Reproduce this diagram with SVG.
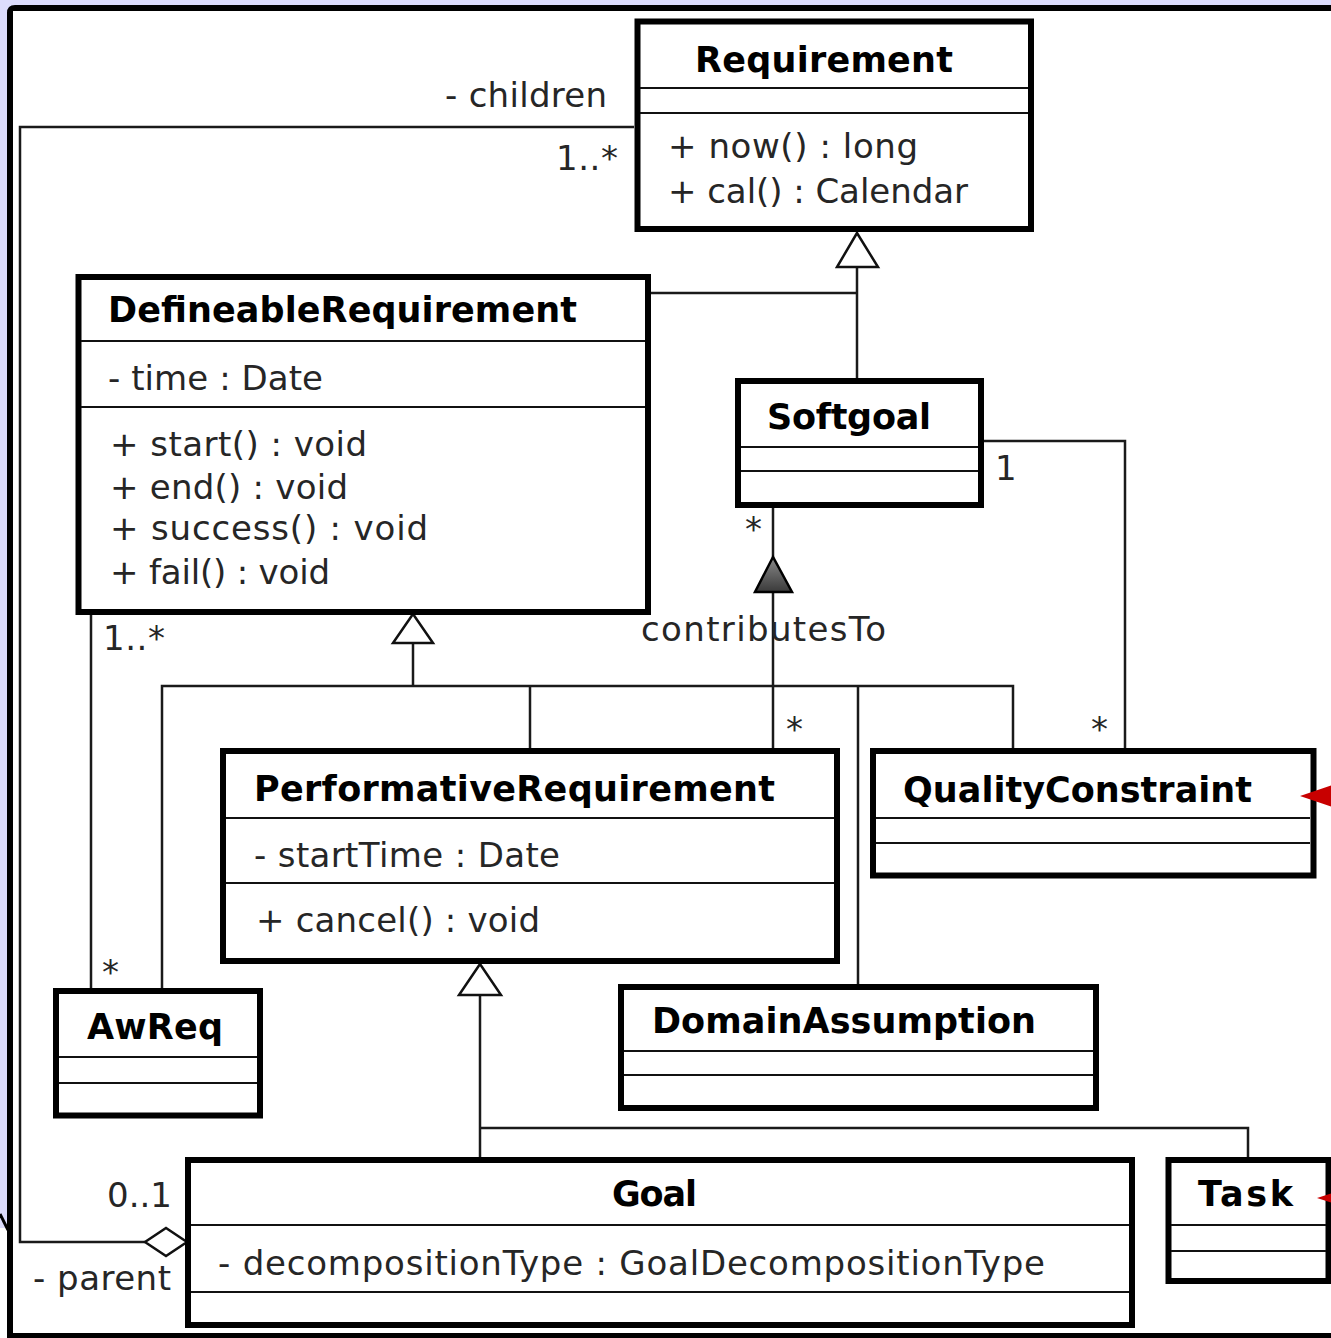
<svg xmlns="http://www.w3.org/2000/svg" width="1331" height="1338" viewBox="0 0 1331 1338">
<style>
.box{fill:#fff;stroke:#000;stroke-width:6}
.sep{stroke:#111;stroke-width:2;fill:none}
.ln{fill:none;stroke:#1a1a1a;stroke-width:2.5}
.gen{fill:#fff;stroke:#111;stroke-width:2.5;stroke-linejoin:miter}
.t{font-family:"DejaVu Sans","Liberation Sans",sans-serif;font-size:34px;fill:#262626}
.b{font-family:"DejaVu Sans","Liberation Sans",sans-serif;font-size:35px;font-weight:bold;fill:#000}
.red{fill:#c80000}
</style>
<defs>
<linearGradient id="gr" x1="0" y1="0" x2="0" y2="1">
<stop offset="0" stop-color="#8a8a8a"/>
<stop offset="1" stop-color="#3a3a3a"/>
</linearGradient>
</defs>
<!-- frame -->
<rect x="0" y="0" width="1331" height="1338" fill="#dcdcfc"/>
<rect x="13" y="11" width="1318" height="1322" fill="#fff"/>
<rect x="0" y="1228" width="13" height="110" fill="#fff"/>
<path d="M7 1338 V13 Q7 5 15 5 H1331 V11 H13 V1333 H1331 V1338 Z" fill="#000"/>
<path d="M0 1214 L8 1230" stroke="#000" stroke-width="3"/>

<g id="connectors">
<!-- aggregation children/parent -->
<polyline class="ln" points="634,127 20,127 20,1242 145,1242"/>
<polygon class="gen" points="187,1242 166,1228 145,1242 166,1256"/>
<!-- generalization to Requirement -->
<polyline class="ln" points="648,293 857,293"/>
<polyline class="ln" points="857,267 857,379"/>
<polygon class="gen" points="857,233 837,267 878,267"/>
<!-- generalization to DefineableRequirement -->
<polyline class="ln" points="413,643 413,686"/>
<polyline class="ln" points="162,991 162,686 1013,686 1013,750"/>
<polyline class="ln" points="530,686 530,750"/>
<polyline class="ln" points="858,686 858,986"/>
<polygon class="gen" points="413,614 393,643 433,643"/>
<!-- generalization to PerformativeRequirement -->
<polyline class="ln" points="480,995 480,1160"/>
<polyline class="ln" points="480,1128 1248,1128 1248,1160"/>
<polygon class="gen" points="480,964 459,995 501,995"/>
<!-- DR - AwReq association -->
<polyline class="ln" points="91,612 91,991"/>
<!-- contributesTo -->
<polyline class="ln" points="773,505 773,750"/>
<polygon points="773,557 755,592 792,592" fill="url(#gr)" stroke="#000" stroke-width="2.5"/>
<!-- Softgoal - QualityConstraint -->
<polyline class="ln" points="984,441 1125,441 1125,750"/>
<!-- labels -->
<text class="t" x="445" y="107" textLength="162" lengthAdjust="spacing">- children</text>
<text class="t" x="556" y="170" textLength="62" lengthAdjust="spacing">1..*</text>
<text class="t" x="103" y="650" textLength="62" lengthAdjust="spacing">1..*</text>
<text class="t" x="102" y="984">*</text>
<text class="t" x="745" y="541">*</text>
<text class="t" x="995" y="480">1</text>
<text class="t" x="641" y="641" textLength="245" lengthAdjust="spacing">contributesTo</text>
<text class="t" x="786" y="741">*</text>
<text class="t" x="1091" y="741">*</text>
<text class="t" x="107" y="1207" textLength="65" lengthAdjust="spacing">0..1</text>
<text class="t" x="33" y="1290" textLength="138" lengthAdjust="spacing">- parent</text>
</g>

<g id="Requirement">
<rect class="box" x="637.5" y="21.5" width="393.5" height="207.5"/>
<line class="sep" x1="640" y1="88" x2="1028" y2="88"/>
<line class="sep" x1="640" y1="113" x2="1028" y2="113"/>
<text class="b" x="695" y="72" textLength="258" lengthAdjust="spacing">Requirement</text>
<text class="t" x="668" y="158" textLength="250" lengthAdjust="spacing">+ now() : long</text>
<text class="t" x="668" y="203" textLength="300" lengthAdjust="spacing">+ cal() : Calendar</text>
</g>

<g id="DefineableRequirement">
<rect class="box" x="78.5" y="277" width="569.5" height="335"/>
<line class="sep" x1="81" y1="341" x2="645" y2="341"/>
<line class="sep" x1="81" y1="407" x2="645" y2="407"/>
<text class="b" x="108" y="322" textLength="469" lengthAdjust="spacing">DefineableRequirement</text>
<text class="t" x="108" y="390" textLength="215" lengthAdjust="spacing">- time : Date</text>
<text class="t" x="110" y="456" textLength="257" lengthAdjust="spacing">+ start() : void</text>
<text class="t" x="110" y="499" textLength="238" lengthAdjust="spacing">+ end() : void</text>
<text class="t" x="110" y="540" textLength="318" lengthAdjust="spacing">+ success() : void</text>
<text class="t" x="110" y="584" textLength="220" lengthAdjust="spacing">+ fail() : void</text>
</g>

<g id="Softgoal">
<rect class="box" x="738" y="381" width="243" height="124"/>
<line class="sep" x1="741" y1="447" x2="978" y2="447"/>
<line class="sep" x1="741" y1="471" x2="978" y2="471"/>
<text class="b" x="767" y="429" textLength="164" lengthAdjust="spacing">Softgoal</text>
</g>

<g id="PerformativeRequirement">
<rect class="box" x="223" y="751" width="614" height="210"/>
<line class="sep" x1="226" y1="818" x2="834" y2="818"/>
<line class="sep" x1="226" y1="883" x2="834" y2="883"/>
<text class="b" x="254" y="801" textLength="521" lengthAdjust="spacing">PerformativeRequirement</text>
<text class="t" x="254" y="867" textLength="306" lengthAdjust="spacing">- startTime : Date</text>
<text class="t" x="256" y="932" textLength="284" lengthAdjust="spacing">+ cancel() : void</text>
</g>

<g id="QualityConstraint">
<rect class="box" x="873" y="751" width="440.5" height="124.5"/>
<line class="sep" x1="876" y1="818" x2="1310" y2="818"/>
<line class="sep" x1="876" y1="843" x2="1310" y2="843"/>
<text class="b" x="903" y="802" textLength="349" lengthAdjust="spacing">QualityConstraint</text>
<polygon class="red" points="1300,796 1340,782.5 1340,809.5"/>
</g>

<g id="AwReq">
<rect class="box" x="56" y="991" width="204" height="124.5"/>
<line class="sep" x1="59" y1="1057" x2="257" y2="1057"/>
<line class="sep" x1="59" y1="1083" x2="257" y2="1083"/>
<text class="b" x="87" y="1039" textLength="136" lengthAdjust="spacing">AwReq</text>
</g>

<g id="DomainAssumption">
<rect class="box" x="621" y="987" width="475" height="121"/>
<line class="sep" x1="624" y1="1051" x2="1093" y2="1051"/>
<line class="sep" x1="624" y1="1075" x2="1093" y2="1075"/>
<text class="b" x="652" y="1033" textLength="384" lengthAdjust="spacing">DomainAssumption</text>
</g>

<g id="Goal">
<rect class="box" x="188" y="1160" width="944" height="165"/>
<line class="sep" x1="191" y1="1225" x2="1129" y2="1225"/>
<line class="sep" x1="191" y1="1292" x2="1129" y2="1292"/>
<text class="b" x="612" y="1206" textLength="85" lengthAdjust="spacing">Goal</text>
<text class="t" x="218" y="1275" textLength="827" lengthAdjust="spacing">- decompositionType : GoalDecompositionType</text>
</g>

<g id="Task">
<rect class="box" x="1168.5" y="1160" width="160" height="121"/>
<line class="sep" x1="1171" y1="1225" x2="1326" y2="1225"/>
<line class="sep" x1="1171" y1="1251" x2="1326" y2="1251"/>
<text class="b" x="1198" y="1206" textLength="95" lengthAdjust="spacing">Task</text>
<polygon class="red" points="1317,1198 1340,1190.5 1340,1205.5"/>
</g>
</svg>
